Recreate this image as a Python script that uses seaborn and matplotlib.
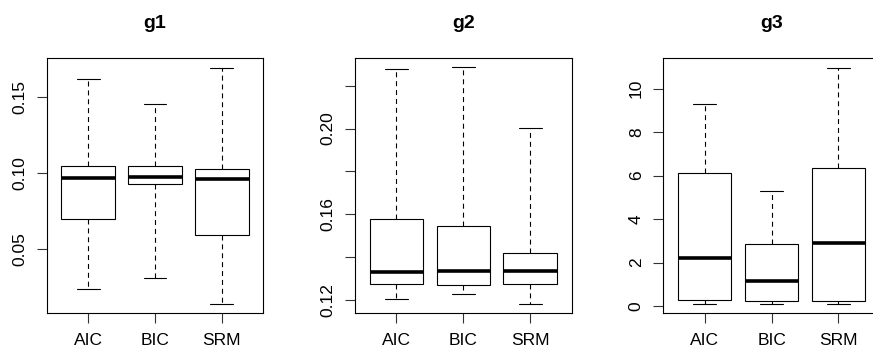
import matplotlib
matplotlib.use("Agg")
import matplotlib.pyplot as plt
import seaborn as sns
import pandas as pd

# five-number summaries (min, Q1, median, Q3, max)
methods = ["AIC", "BIC", "SRM"]
g1_aic = [0.0238, 0.0698, 0.0963, 0.1042, 0.1614]
g1_bic = [0.0310, 0.0930, 0.0974, 0.1042, 0.1450]
g1_srm = [0.0137, 0.0594, 0.0961, 0.1026, 0.1690]
g2_aic = [0.1206, 0.1275, 0.1331, 0.1578, 0.2277]
g2_bic = [0.1228, 0.1269, 0.1335, 0.1544, 0.2286]
g2_srm = [0.1180, 0.1275, 0.1335, 0.1418, 0.2002]
g3_aic = [0.09, 0.29, 2.21, 6.11, 9.30]
g3_bic = [0.11, 0.22, 1.17, 2.87, 5.31]
g3_srm = [0.08, 0.23, 2.91, 6.34, 10.97]

panels = [
    ("g1", [g1_aic, g1_bic, g1_srm]),
    ("g2", [g2_aic, g2_bic, g2_srm]),
    ("g3", [g3_aic, g3_bic, g3_srm]),
]

sns.set_theme(style="white")
plt.rcParams["font.family"] = ["Liberation Sans", "DejaVu Sans"]

fig = plt.figure(figsize=(8.73, 3.58), dpi=100)
lefts = [46.7, 355.0, 663.3]
ax_w, ax_b, ax_h = 216.6, 44.7, 255.0

ylims = [(0.0078, 0.1752), (0.1138, 0.2328), (-0.336, 11.40)]
yticks = [[0.05, 0.10, 0.15], [0.12, 0.14, 0.16, 0.18, 0.20, 0.22], [0, 2, 4, 6, 8, 10]]
ylabels = [["0.05", "0.10", "0.15"], ["0.12", "", "0.16", "", "0.20", ""],
           ["0", "2", "4", "6", "8", "10"]]

for i, (title, groups) in enumerate(panels):
    ax = fig.add_axes([lefts[i] / 873, ax_b / 358, ax_w / 873, ax_h / 358])
    df = pd.DataFrame({
        "method": [m for m, g in zip(methods, groups) for _ in g],
        "value": [v for g in groups for v in g],
    })
    sns.boxplot(data=df, x="method", y="value", ax=ax, order=methods,
                whis=(0, 100), width=0.8, color="white", linecolor="black",
                linewidth=0.8, showfliers=False, capwidths=0.34,
                medianprops=dict(linewidth=2.6, color="black"),
                whiskerprops=dict(linestyle=(0, (4.5, 3.5)), color="black"))
    ax.set_xlim(-0.62, 2.62)
    ax.set_ylim(*ylims[i])
    ax.set_yticks(yticks[i])
    ax.set_yticklabels(ylabels[i])
    ax.set_xlabel("")
    ax.set_ylabel("")
    ax.set_title(title, fontsize=14, fontweight="bold", pad=22, color="black")
    for s in ax.spines.values():
        s.set_visible(True)
        s.set_color("black")
        s.set_linewidth(0.8)
    ax.tick_params(axis="both", length=7, width=0.8, color="#333333",
                   labelsize=12.5, labelcolor="black", left=True, bottom=True)
    ax.tick_params(axis="x", pad=7)
    ax.tick_params(axis="y", pad=7)
    for lab in ax.get_yticklabels():
        lab.set_rotation(90)
        lab.set_va("center")

fig.savefig("out.png", dpi=100)
